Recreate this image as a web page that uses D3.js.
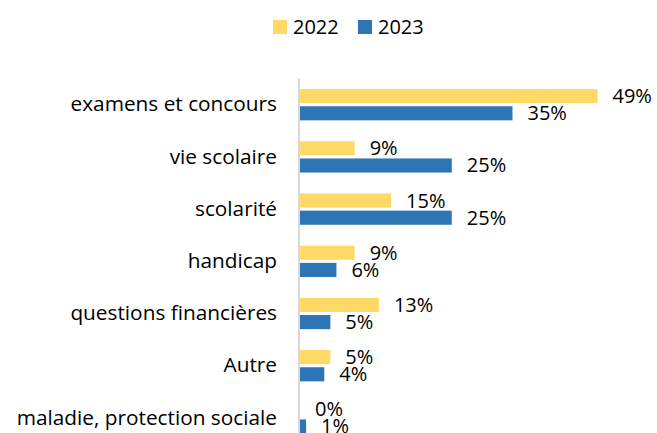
<meta charset="utf-8">
<script src="https://cdn.jsdelivr.net/npm/d3@7"></script>
<body style="margin:0"></body>
<script>
  // data
  var categories = ["examens et concours", "vie scolaire", "scolarité", "handicap",
    "questions financières", "Autre", "maladie, protection sociale"];
  var series = ["2022", "2023"];
  var values2022 = [49, 9, 15, 9, 13, 5, 0];
  var values2023 = [35, 25, 25, 6, 5, 4, 1];
  var colors = {"2022": "#FFD966", "2023": "#2E75B6"};

  var width = 657, height = 433;
  var font = "'Open Sans', sans-serif";

  var svg = d3.select("body").append("svg")
    .attr("width", width)
    .attr("height", height)
    .style("background", "#fff")
    .style("font-family", font);

  // scales
  var y = d3.scaleBand()
    .domain(categories)
    .range([78.6, 444])
    .paddingInner(0.4)
    .paddingOuter(0.2);

  var ySub = d3.scaleBand()
    .domain(series)
    .range([0, y.bandwidth()])
    .paddingInner(0.18);

  var x = d3.scaleLinear()
    .domain([0, 49])
    .range([300, 597.5]);

  var rows = categories.map(function(c, i) {
    return {cat: c, vals: [
      {s: "2022", v: values2022[i]},
      {s: "2023", v: values2023[i]}
    ]};
  });

  // bars + labels
  var groups = svg.selectAll("g.grp")
    .data(rows)
    .enter().append("g")
    .attr("class", "grp")
    .attr("transform", function(d) { return "translate(0," + y(d.cat) + ")"; });

  groups.selectAll("rect")
    .data(function(d) { return d.vals; })
    .enter().append("rect")
    .attr("x", x(0))
    .attr("y", function(d) { return ySub(d.s); })
    .attr("width", function(d) { return x(d.v) - x(0); })
    .attr("height", ySub.bandwidth())
    .style("fill", function(d) { return colors[d.s]; });

  groups.selectAll("text.val")
    .data(function(d) { return d.vals; })
    .enter().append("text")
    .attr("class", "val")
    .attr("x", function(d) { return x(d.v) + 15; })
    .attr("y", function(d) { return ySub(d.s) + ySub.bandwidth() / 2; })
    .attr("dy", "0.35em")
    .style("font-size", "20px")
    .style("fill", "#000")
    .text(function(d) { return d.v + "%"; });

  // category axis
  var yAxis = svg.append("g")
    .attr("transform", "translate(" + (x(0) - 1) + ",0)")
    .call(d3.axisLeft(y).tickSize(0).tickPadding(22));
  yAxis.select(".domain")
    .attr("d", "M0," + y.range()[0] + "V" + height)
    .attr("stroke", "#d9d9d9")
    .attr("stroke-width", 2);
  yAxis.selectAll("text")
    .style("font-family", font)
    .style("font-size", "20.8px")
    .style("fill", "#000");

  // legend
  var legend = svg.append("g").attr("transform", "translate(273,20)");
  var legendX = [0, 85];
  series.forEach(function(s, i) {
    legend.append("rect")
      .attr("x", legendX[i])
      .attr("y", 0)
      .attr("width", 14)
      .attr("height", 14)
      .style("fill", colors[s]);
    legend.append("text")
      .attr("x", legendX[i] + 20)
      .attr("y", 7)
      .attr("dy", "0.35em")
      .style("font-size", "20px")
      .style("fill", "#000")
      .text(s);
  });
</script>
